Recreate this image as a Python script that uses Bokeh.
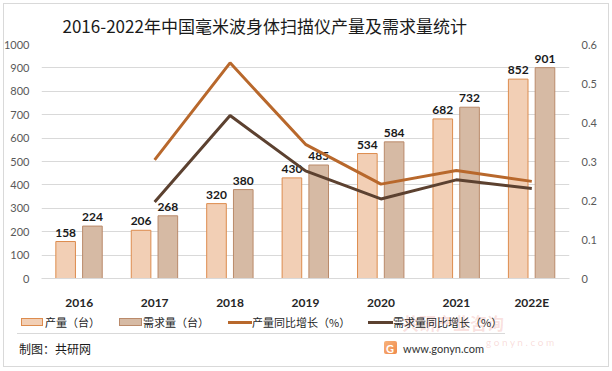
from bokeh.plotting import figure
from bokeh.layouts import column
from bokeh.models import (Range1d, LinearAxis, FixedTicker, CustomJSTickFormatter,
                          ColumnDataSource, InlineStyleSheet, Div)
from bokeh.transform import dodge
from bokeh.core.properties import value
from bokeh.embed import file_html
from bokeh.resources import INLINE

years = ["2016", "2017", "2018", "2019", "2020", "2021", "2022E"]
production = [158, 206, 320, 430, 534, 682, 852]
demand = [224, 268, 380, 485, 584, 732, 901]
growth_years = ["2017", "2018", "2019", "2020", "2021", "2022E"]
production_growth = [0.304, 0.553, 0.344, 0.242, 0.277, 0.249]
demand_growth = [0.196, 0.418, 0.276, 0.204, 0.253, 0.231]
left_ticks = [0, 100, 200, 300, 400, 500, 600, 700, 800, 900, 1000]
right_ticks = [0, 0.1, 0.2, 0.3, 0.4, 0.5, 0.6]

title_text = "2016-2022年中国毫米波身体扫描仪产量及需求量统计"
legend_labels = ["产量（台）", "需求量（台）", "产量同比增长（%）", "需求量同比增长（%）"]
source_text = "制图：共研网"

CJK = "Noto Sans CJK SC"
NUM = "Lato"
PROD_FILL, PROD_LINE = "#F2CFB5", "#DD8C4E"
DEM_FILL, DEM_LINE = "#D6BAA4", "#BA8A6A"
PG_COLOR, DG_COLOR = "#B8682C", "#5C4130"

bars = ColumnDataSource(dict(year=years, production=production, demand=demand,
                             plab=[str(v) for v in production], dlab=[str(v) for v in demand]))
lines = ColumnDataSource(dict(year=growth_years, pg=production_growth, dg=demand_growth))

p = figure(x_range=years, y_range=Range1d(0, 1000), width=612, height=312,
           output_backend="svg", toolbar_location=None,
           min_border_left=40, min_border_right=43, min_border_top=44, min_border_bottom=27)
p.extra_y_ranges = {"right": Range1d(0, 0.6)}
p.outline_line_color = None
p.border_fill_color = "white"

p.title.text = title_text
p.title.align = "left"
p.title.offset = 21
p.title.standoff = 13
p.title.text_font = CJK
p.title.text_font_size = "17px"
p.title.text_font_style = "normal"
p.title.text_color = "#1A1A1A"

# axes
p.yaxis.ticker = FixedTicker(ticks=left_ticks)
ax_r = LinearAxis(y_range_name="right", ticker=FixedTicker(ticks=right_ticks),
                  formatter=CustomJSTickFormatter(code="return tick == 0 ? '0' : tick.toFixed(1);"))
p.add_layout(ax_r, "right")
for ax in [p.yaxis[0], ax_r]:
    ax.axis_line_color = None
    ax.major_tick_line_color = None
    ax.minor_tick_line_color = None
    ax.major_label_text_font = NUM
    ax.major_label_text_font_size = "11px"
    ax.major_label_text_color = "#595959"
    ax.major_label_standoff = 6
p.xaxis.axis_line_color = "#D9D9D9"
p.xaxis.major_tick_line_color = None
p.xaxis.major_label_text_font = NUM
p.xaxis.major_label_text_font_style = "bold"
p.xaxis.major_label_text_font_size = "12px"
p.xaxis.major_label_text_color = "#262626"
p.xaxis.major_label_standoff = 10
p.xgrid.grid_line_color = None
p.ygrid.grid_line_color = "#D9D9D9"
p.ygrid.ticker = FixedTicker(ticks=left_ticks)

# bars
p.vbar(x=dodge("year", -0.18, range=p.x_range), top="production", width=0.26, source=bars,
       fill_color=PROD_FILL, line_color=PROD_LINE, line_width=1)
p.vbar(x=dodge("year", 0.175, range=p.x_range), top="demand", width=0.26, source=bars,
       fill_color=DEM_FILL, line_color=DEM_LINE, line_width=1)
for col, ycol, off in [("plab", "production", -0.18), ("dlab", "demand", 0.175)]:
    p.text(x=dodge("year", off, range=p.x_range), y=ycol, text=col, source=bars, y_offset=-5,
           text_align="center", text_baseline="bottom", text_font=value(NUM),
           text_font_style="bold", text_font_size="12px", text_color="#1A1A1A")

# lines
p.line(x="year", y="pg", source=lines, y_range_name="right", line_color=PG_COLOR, line_width=3)
p.line(x="year", y="dg", source=lines, y_range_name="right", line_color=DG_COLOR, line_width=3)

# footer (legend, separator, source) as HTML
def span(left, top, width, height, style):
    return (f'<div style="position:absolute;left:{left}px;top:{top}px;width:{width}px;'
            f'height:{height}px;box-sizing:border-box;{style}"></div>')

def txt(left, cy, text, size, style=""):
    return (f'<div style="position:absolute;left:{left}px;top:{cy}px;transform:translateY(-50%);'
            f'white-space:nowrap;font-size:{size}px;line-height:1;{style}">{text}</div>')

swatches = [
    span(21, 6, 22, 8, f"background:{PROD_FILL};border:1px solid {PROD_LINE};"),
    span(119, 6, 23, 8, f"background:{DEM_FILL};border:1px solid {DEM_LINE};"),
    span(228, 9, 24, 3, f"background:{PG_COLOR};"),
    span(368, 9, 25, 3, f"background:{DG_COLOR};"),
]
legend_pos = [45, 143, 252, 393]
parts = [txt(402, 10, "共研产业咨询", 17, "font-weight:bold;color:rgba(230,120,110,0.22);")]
parts += swatches
parts += [txt(x, 10, t, 11, "color:#262626;") for x, t in zip(legend_pos, legend_labels)]
parts += [span(17, 21, 488, 1, "background:#D9D9D9;"),
          txt(19, 37, source_text, 12, "color:#1A1A1A;"),
          span(384, 29, 13, 13, "background:linear-gradient(135deg,#F7B27A,#F08A4B);border-radius:2px;"),
          txt(386, 36, "G", 11, f"font-family:{NUM};font-weight:bold;color:white;"),
          txt(486, 30, "g o n y n . c o m", 10, f"font-family:{NUM};color:rgba(230,120,110,0.25);"),
          txt(403, 36, "www.gonyn.com", 11, f"font-family:{NUM};color:#333333;")]
html = (f'<div style="position:relative;width:612px;height:58px;background:white;'
        f'font-family:\'{CJK}\';">' + "".join(parts) + "</div>")
footer = Div(text=html, width=612, height=58, margin=0)

frame_css = InlineStyleSheet(css=""":host { position: relative; }
:host::after { content: ""; position: absolute; left: 3px; top: 3px; right: 3px; bottom: 3px;
  border: 1px solid #D9D9D9; pointer-events: none; z-index: 100; }""")
layout = column(p, footer, spacing=0, stylesheets=[frame_css])
open("out.html", "w").write(file_html(layout, INLINE))
